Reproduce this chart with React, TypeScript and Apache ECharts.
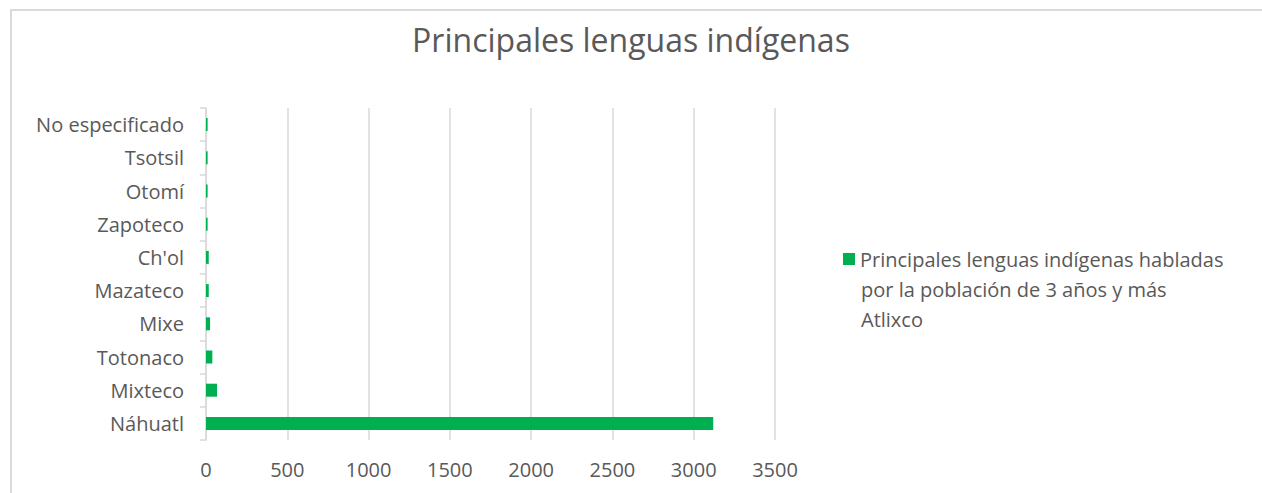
import React, { useEffect, useRef } from "react";
import * as echarts from "echarts";

const categories = [
  "Náhuatl",
  "Mixteco",
  "Totonaco",
  "Mixe",
  "Mazateco",
  "Ch'ol",
  "Zapoteco",
  "Otomí",
  "Tsotsil",
  "No especificado",
];
const values = [3120, 68, 39, 25, 17, 17, 10, 10, 10, 10];
const xTicks = { min: 0, max: 3500, interval: 500 };
const titleText = "Principales lenguas indígenas";
const seriesName =
  "Principales lenguas indígenas habladas por la población de 3 años y más Atlixco";
const legendLines = [
  "Principales lenguas indígenas habladas",
  "por la población de 3 años y más",
  "Atlixco",
];

const FONT = "'Open Sans', 'Noto Sans', sans-serif";
const TEXT = "#595959";
const GRID = "#d9d9d9";
const FS = 20;

export default function App() {
  const ref = useRef<HTMLDivElement>(null);
  useEffect(() => {
    if (!ref.current) return;
    const chart = echarts.init(ref.current, undefined, { renderer: "svg" });
    chart.setOption({
      animation: false,
      backgroundColor: "#ffffff",
      textStyle: { fontFamily: FONT },
      title: {
        text: titleText,
        left: "center",
        top: 18,
        textStyle: {
          fontFamily: FONT,
          fontSize: 32,
          fontWeight: "normal",
          color: TEXT,
        },
      },
      legend: {
        data: [seriesName],
        left: 838,
        top: 244,
        orient: "vertical",
        itemWidth: 12,
        itemHeight: 12,
        itemGap: 0,
        icon: "rect",
        formatter: () => legendLines[0],
        textStyle: {
          fontFamily: FONT,
          fontSize: FS,
          color: TEXT,
        },
      },
      grid: { left: 206, right: 487, top: 108, bottom: 53, containLabel: false },
      xAxis: {
        type: "value",
        min: xTicks.min,
        max: xTicks.max,
        interval: xTicks.interval,
        axisLine: { show: false },
        axisTick: { show: false },
        splitLine: { lineStyle: { color: GRID, width: 1.5 } },
        axisLabel: {
          color: TEXT,
          fontSize: FS,
          fontFamily: FONT,
          margin: 19,
          formatter: (v: number) => String(v),
        },
      },
      yAxis: {
        type: "category",
        data: categories,
        axisLine: { lineStyle: { color: GRID, width: 1.5 } },
        axisTick: { show: true, length: 6, lineStyle: { color: GRID, width: 1.5 } },
        axisLabel: { color: TEXT, fontSize: FS, fontFamily: FONT, margin: 22 },
      },
      series: [
        {
          name: seriesName,
          type: "bar",
          data: values,
          barWidth: 13,
          itemStyle: { color: "#00b050" },
        },
      ],
      graphic: [
        {
          type: "line",
          shape: { x1: 11, y1: 9, x2: 11, y2: 493 },
          style: { stroke: GRID, lineWidth: 2 },
        },
        {
          type: "line",
          shape: { x1: 10, y1: 10, x2: 1262, y2: 10 },
          style: { stroke: GRID, lineWidth: 2 },
        },
        {
          type: "text",
          left: 861,
          top: 279,
          style: {
            text: legendLines[1],
            fontFamily: FONT,
            fontSize: FS,
            fill: TEXT,
          },
        },
        {
          type: "text",
          left: 861,
          top: 309,
          style: {
            text: legendLines[2],
            fontFamily: FONT,
            fontSize: FS,
            fill: TEXT,
          },
        },
      ],
    });
    return () => chart.dispose();
  }, []);
  return (
    <div
      ref={ref}
      style={{ position: "fixed", left: 0, top: 0, width: 1262, height: 493 }}
    />
  );
}
